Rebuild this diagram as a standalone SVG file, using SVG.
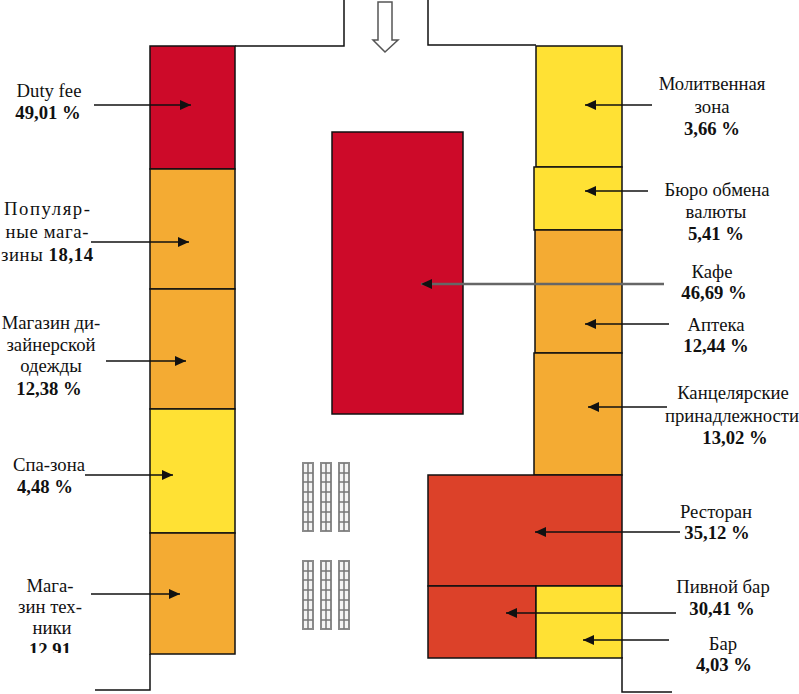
<svg xmlns="http://www.w3.org/2000/svg" width="799" height="694" viewBox="0 0 799 694">
<style>
text{font-family:"Liberation Serif","Times New Roman",serif;font-size:18.7px;fill:#111;text-anchor:middle}
.b{font-weight:bold}
.z{stroke:#111;stroke-width:1.5}
.w{fill:none;stroke:#111;stroke-width:1.5}
.a{stroke:#111;stroke-width:1.5;fill:none;marker-end:url(#ah)}
.r{fill:#cd0a29}.o{fill:#f4ab33}.y{fill:#ffe134}.d{fill:#dc4129}
.g{fill:#f4f4f4;stroke:#8a8a8a;stroke-width:2}
.gl{stroke:#777;stroke-width:1.5}
</style>
<defs>
<marker id="ah" markerUnits="userSpaceOnUse" markerWidth="12" markerHeight="10" refX="11" refY="5" orient="auto"><path d="M0 0L11 5L0 10Z" fill="#111"/></marker>
<clipPath id="clip"><rect x="0" y="560" width="150" height="93"/></clipPath>
<g id="rack"><rect class="g" x="0" y="0" width="10" height="68"/><path class="gl" d="M0 10H10M0 19H10M0 29H10M0 39H10M0 49H10M0 59H10M5 0V68"/></g>
</defs>
<g id="walls">
<path class="w" d="M235 46H344V0M428 0V45H536M150 654V690H95M622 657V692H672"/>
<path d="M378 2H392V40H398L385 52L373 40H378Z" fill="#fff" stroke="#555" stroke-width="1.500"/>
</g>
<g id="duty-fee"><rect class="r z" x="150" y="46" width="85" height="123"/><text x="49" y="97">Duty fee</text><text class="b" x="48" y="119">49,01 %</text></g>
<g id="popular"><rect class="o z" x="150" y="169" width="85" height="120"/><text x="47" y="215" textLength="86">Популяр-</text><text x="47" y="238" textLength="83">ные мага-</text><text x="47" y="261" textLength="92">зины <tspan class="b">18,14</tspan></text></g>
<g id="designer"><rect class="o z" x="150" y="289" width="85" height="120"/><text x="51" y="329">Магазин ди-</text><text x="51" y="351">зайнерской</text><text x="51" y="372">одежды</text><text class="b" x="49" y="395">12,38 %</text></g>
<g id="spa"><rect class="y z" x="150" y="409" width="85" height="124"/><text x="49" y="471">Спа-зона</text><text class="b" x="45" y="493">4,48 %</text></g>
<g id="electronics"><rect class="o z" x="150" y="533" width="85" height="121"/><text x="50" y="592">Мага-</text><text x="50" y="613">зин тех-</text><text x="52" y="634">ники</text><text class="b" x="50" y="656" clip-path="url(#clip)">12,91</text></g>
<g id="cafe"><rect class="r z" x="332" y="132" width="131" height="282"/><text x="712" y="278">Кафе</text><text class="b" x="714" y="299">46,69 %</text></g>
<g id="prayer"><rect class="y z" x="536" y="46" width="86" height="121"/><text x="712" y="90">Молитвенная</text><text x="712" y="113">зона</text><text class="b" x="712" y="135">3,66 %</text></g>
<g id="exchange"><rect class="y z" x="534" y="167" width="88" height="63"/><text x="717" y="196">Бюро обмена</text><text x="716" y="218">валюты</text><text class="b" x="716" y="240">5,41 %</text></g>
<g id="pharmacy"><rect class="o z" x="535" y="230" width="87" height="123"/><text x="716" y="331">Аптека</text><text class="b" x="716" y="352">12,44 %</text></g>
<g id="stationery"><rect class="o z" x="534" y="353" width="88" height="122"/><text x="733" y="399">Канцелярские</text><text x="732" y="422">принадлежности</text><text class="b" x="735" y="444">13,02 %</text></g>
<g id="restaurant"><rect class="d z" x="428" y="475" width="194" height="111"/><text x="716" y="518">Ресторан</text><text class="b" x="717" y="539">35,12 %</text></g>
<g id="beer-bar"><rect class="d z" x="428" y="586" width="108" height="72"/><text x="723" y="593">Пивной бар</text><text class="b" x="722" y="615">30,41 %</text></g>
<g id="bar"><rect class="y z" x="536" y="586" width="86" height="72"/><text x="723" y="650">Бар</text><text class="b" x="724" y="671">4,03 %</text></g>
<g id="racks">
<use href="#rack" x="303" y="463"/><use href="#rack" x="321" y="463"/><use href="#rack" x="339" y="463"/>
<use href="#rack" x="303" y="561"/><use href="#rack" x="321" y="561"/><use href="#rack" x="339" y="561"/>
</g>
<g id="connectors">
<path class="a" d="M94 105H191"/>
<path class="a" d="M91 242H189"/>
<path class="a" d="M106 361H186"/>
<path class="a" d="M85 475H173"/>
<path class="a" d="M91 594H180"/>
<path class="a" d="M652 105H585"/>
<path class="a" d="M648 191H585"/>
<path class="a" d="M664 284H421" style="stroke:#666;stroke-width:2.500"/>
<path class="a" d="M669 324H585"/>
<path class="a" d="M667 407H588"/>
<path class="a" d="M680 532H535"/>
<path class="a" d="M676 613H506"/>
<path class="a" d="M669 640H583"/>
</g>
</svg>
